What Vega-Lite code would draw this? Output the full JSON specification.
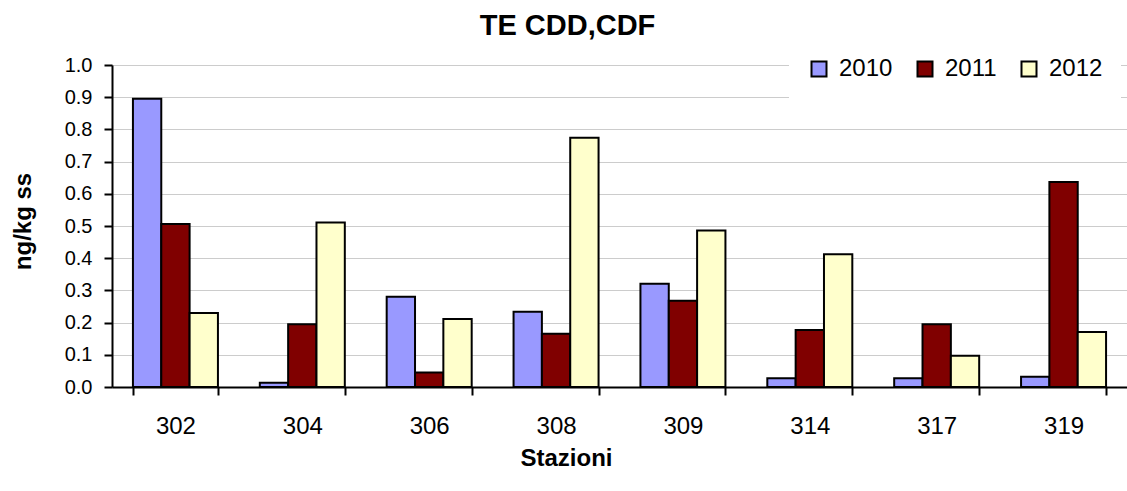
{
  "$schema": "https://vega.github.io/schema/vega-lite/v6.json",
  "autosize": {"type": "none"},
  "padding": {"left": 112, "top": 65, "right": 0, "bottom": 104},
  "width": 1015,
  "height": 322,
  "background": "white",
  "config": {
    "view": {"stroke": null},
    "font": "Liberation Sans"
  },
  "title": {
    "text": "TE CDD,CDF",
    "font": "Liberation Sans",
    "fontSize": 29,
    "fontWeight": "bold",
    "color": "black",
    "anchor": "middle",
    "dx": -52,
    "baseline": "alphabetic",
    "offset": -25
  },
  "data": {
    "values": [
      {"stazione": "302", "anno": "2010", "valore": 0.895},
      {"stazione": "302", "anno": "2011", "valore": 0.506},
      {"stazione": "302", "anno": "2012", "valore": 0.23},
      {"stazione": "304", "anno": "2010", "valore": 0.013},
      {"stazione": "304", "anno": "2011", "valore": 0.195},
      {"stazione": "304", "anno": "2012", "valore": 0.511},
      {"stazione": "306", "anno": "2010", "valore": 0.28},
      {"stazione": "306", "anno": "2011", "valore": 0.045},
      {"stazione": "306", "anno": "2012", "valore": 0.211},
      {"stazione": "308", "anno": "2010", "valore": 0.234},
      {"stazione": "308", "anno": "2011", "valore": 0.165},
      {"stazione": "308", "anno": "2012", "valore": 0.774},
      {"stazione": "309", "anno": "2010", "valore": 0.321},
      {"stazione": "309", "anno": "2011", "valore": 0.268},
      {"stazione": "309", "anno": "2012", "valore": 0.486},
      {"stazione": "314", "anno": "2010", "valore": 0.027},
      {"stazione": "314", "anno": "2011", "valore": 0.177},
      {"stazione": "314", "anno": "2012", "valore": 0.412},
      {"stazione": "317", "anno": "2010", "valore": 0.027},
      {"stazione": "317", "anno": "2011", "valore": 0.195},
      {"stazione": "317", "anno": "2012", "valore": 0.097},
      {"stazione": "319", "anno": "2010", "valore": 0.032},
      {"stazione": "319", "anno": "2011", "valore": 0.637},
      {"stazione": "319", "anno": "2012", "valore": 0.171}
    ]
  },
  "mark": {"type": "bar", "stroke": "black", "strokeWidth": 2},
  "encoding": {
    "x": {
      "field": "stazione",
      "type": "nominal",
      "scale": {"paddingInner": 0.33, "paddingOuter": 0.165},
      "axis": {
        "title": "Stazioni",
        "titleFont": "Liberation Sans",
        "titleFontSize": 24,
        "titleFontWeight": "bold",
        "titleColor": "black",
        "titleX": 454,
        "titleY": 78,
        "titleAlign": "center",
        "titleBaseline": "alphabetic",
        "labelAngle": 0,
        "labelFontSize": 24,
        "labelColor": "black",
        "labelPadding": 19,
        "labelFont": "Liberation Sans",
        "tickBand": "extent",
        "tickSize": 8,
        "tickColor": "black",
        "tickWidth": 2,
        "domainColor": "black",
        "domainWidth": 2,
        "grid": false
      }
    },
    "xOffset": {
      "field": "anno",
      "type": "nominal",
      "scale": {"paddingInner": 0, "paddingOuter": 0}
    },
    "y": {
      "field": "valore",
      "type": "quantitative",
      "scale": {"domain": [0, 1], "nice": false},
      "axis": {
        "title": "ng/kg ss",
        "titleFont": "Liberation Sans",
        "titleFontSize": 24,
        "titleFontWeight": "bold",
        "titleColor": "black",
        "titleAngle": -90,
        "titleX": -89,
        "titleY": 156,
        "titleAlign": "center",
        "titleBaseline": "middle",
        "values": [0, 0.1, 0.2, 0.3, 0.4, 0.5, 0.6, 0.7, 0.8, 0.9, 1.0],
        "format": ".1f",
        "labelFontSize": 20,
        "labelFont": "Liberation Sans",
        "labelColor": "black",
        "labelPadding": 12,
        "tickSize": 8,
        "tickColor": "black",
        "tickWidth": 2,
        "domainColor": "black",
        "domainWidth": 2,
        "grid": true,
        "gridColor": "#999999",
        "gridDash": [1, 1],
        "gridWidth": 1
      }
    },
    "fill": {
      "field": "anno",
      "type": "nominal",
      "scale": {"domain": ["2010", "2011", "2012"], "range": ["#9999FF", "#800000", "#FFFFCC"]},
      "legend": {
        "title": null,
        "orient": "none",
        "direction": "horizontal",
        "legendX": 677,
        "legendY": -26,
        "fillColor": "white",
        "strokeColor": null,
        "padding": 18,
        "symbolType": "square",
        "symbolSize": 225,
        "symbolStrokeColor": "black",
        "symbolStrokeWidth": 2,
        "symbolOpacity": 1,
        "labelFont": "Liberation Sans",
        "labelFontSize": 24,
        "labelColor": "black",
        "labelOffset": 8,
        "columnPadding": 20
      }
    }
  }
}
